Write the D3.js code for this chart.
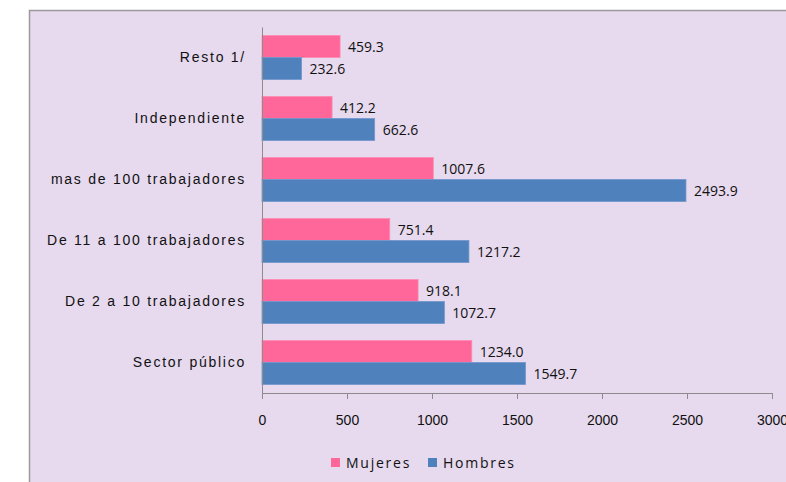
<!DOCTYPE html>
<html>
<head>
<meta charset="utf-8">
<title>Mujeres y Hombres por tamaño de empresa</title>
<style>
  html, body { margin: 0; padding: 0; background: #fff; }
  svg { display: block; font-family: "Open Sans", "Noto Sans", sans-serif; }
  .cat text, .val { font-size: 14px; fill: #111; }
  .tick text { font-size: 14px; fill: #111; }
  .wide { letter-spacing: 1.75px; }
</style>
</head>
<body>
<svg width="786" height="482"></svg>
<script src="https://d3js.org/d3.v7.min.js"></script>
<script>
  const categories = ["Resto 1/", "Independiente", "mas de 100 trabajadores",
    "De 11 a 100 trabajadores", "De 2 a 10 trabajadores", "Sector público"];
  const mujeres = [459.3, 412.2, 1007.6, 751.4, 918.1, 1234.0];
  const hombres = [232.6, 662.6, 2493.9, 1217.2, 1072.7, 1549.7];
  const seriesNames = ["Mujeres", "Hombres"];
  const seriesColors = ["#ff6699", "#4f81bd"];
  const xTicks = [0, 500, 1000, 1500, 2000, 2500, 3000];

  const svg = d3.select("svg");

  // chart frame
  svg.append("rect")
    .attr("x", 29.5).attr("y", 10.5)
    .attr("width", 800).attr("height", 500)
    .attr("fill", "#e7d9ee")
    .attr("stroke", "#9a9a9a")
    .attr("stroke-width", 1.5);

  const plotLeft = 262, plotRight = 772, plotTop = 27, plotBottom = 393;

  const x = d3.scaleLinear().domain([0, 3000]).range([plotLeft, plotRight]);
  const y = d3.scaleBand().domain(categories).range([plotTop, plotBottom]).paddingInner(0.28).paddingOuter(0.14);
  const sub = d3.scaleBand().domain(seriesNames).range([0, y.bandwidth()]);

  // bars
  const rows = categories.map((c, i) => ({ c, vals: [mujeres[i], hombres[i]] }));
  const g = svg.append("g");
  rows.forEach(r => {
    r.vals.forEach((v, k) => {
      const yy = y(r.c) + sub(seriesNames[k]);
      g.append("rect")
        .attr("x", x(0))
        .attr("y", yy)
        .attr("width", x(v) - x(0))
        .attr("height", sub.bandwidth())
        .attr("fill", seriesColors[k])
        .attr("stroke", k === 0 ? "#ff8ab3" : "#7196cc")
        .attr("stroke-width", 0.8);
      g.append("text")
        .attr("class", "val")
        .attr("x", x(v) + 8)
        .attr("y", yy + sub.bandwidth() / 2)
        .attr("dy", "0.36em")
        .text(v.toFixed(1));
    });
  });

  // x axis
  const xAxis = svg.append("g")
    .attr("transform", `translate(0,${plotBottom})`)
    .call(d3.axisBottom(x).tickValues(xTicks).tickSize(6).tickPadding(16).tickFormat(d3.format("d")));
  xAxis.select(".domain").attr("stroke", "#8c8c8c");
  xAxis.selectAll(".tick line").attr("stroke", "#8c8c8c");

  // y axis
  const yAxis = svg.append("g")
    .attr("class", "cat")
    .attr("transform", `translate(${plotLeft},0)`)
    .call(d3.axisLeft(y).tickSize(0).tickPadding(16));
  yAxis.select(".domain").attr("stroke", "#8c8c8c");
  yAxis.selectAll("text").attr("class", "wide").style("font-size", "14px").attr("fill", "#111");

  // legend
  const legX = [331, 428];
  const leg = svg.append("g");
  seriesNames.forEach((s, k) => {
    leg.append("rect")
      .attr("x", legX[k]).attr("y", 458)
      .attr("width", 9).attr("height", 9)
      .attr("fill", seriesColors[k]);
    leg.append("text")
      .attr("class", "val wide")
      .attr("x", legX[k] + 15).attr("y", 463)
      .attr("dy", "0.36em")
      .text(s);
  });
</script>
</body>
</html>
